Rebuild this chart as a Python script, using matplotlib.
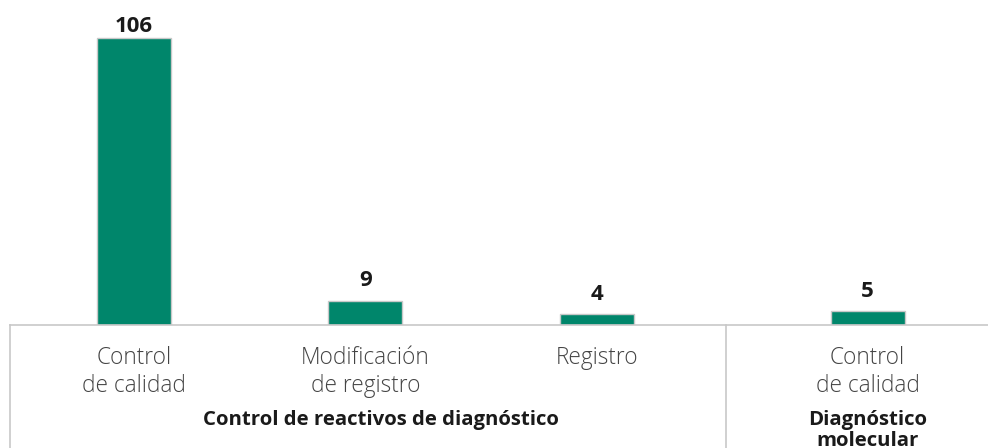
import numpy as np
import matplotlib
matplotlib.use("Agg")
import matplotlib.pyplot as plt

# datos
categorias = ["Control\nde calidad", "Modificación\nde registro", "Registro", "Control\nde calidad"]
valores = [106, 9, 4, 5]
grupos = ["Control de reactivos de diagnóstico", "Diagnóstico\nmolecular"]
grupo_de = [0, 0, 0, 1]

verde = "#00866b"
gris = "#c8c8c8"

# posiciones: un hueco extra entre grupos
hueco = 0.17
x = np.arange(len(valores)) + np.array(grupo_de) * hueco

fig = plt.figure(figsize=(9.88, 4.48), dpi=100)
ax = fig.add_axes([10 / 988, 123 / 448, 978 / 988, 315 / 448])

ax.bar(x, valores, width=0.32, color=verde, edgecolor=gris, linewidth=1, zorder=2)

# etiquetas de valor (la mas alta queda pegada al tope)
for xi, v in zip(x, valores):
    ax.text(xi, min(v + 5.3, 108), str(v), ha="center", va="baseline", fontsize=16,
            fontweight="bold", family="Open Sans", color="#1a1a1a")

ax.set_xlim(-0.536, 3.69)
ax.set_ylim(0, 116.3)

for s in ["top", "right", "left"]:
    ax.spines[s].set_visible(False)
ax.spines["bottom"].set_color(gris)
ax.spines["bottom"].set_linewidth(1.2)
ax.set_yticks([])
ax.set_xticks([])

# etiquetas de categoria
for xi, c in zip(x, categorias):
    ax.text(xi, -7.8, c, ha="center", va="top", fontsize=16.3, fontweight="light",
            family="Open Sans", color="#444444", linespacing=1.22)

# separadores de grupo
for xs in [-0.536, 2.56]:
    ax.axvline(xs, ymin=-123 / 315, ymax=0, color=gris, linewidth=1.2, clip_on=False)

# etiquetas de grupo
desplaz = [0.065, 0.0]
for g, nombre in enumerate(grupos):
    xs = x[np.array(grupo_de) == g]
    ax.text(xs.mean() + desplaz[g], -31.5, nombre, ha="center", va="top", fontsize=14.7,
            fontweight="bold", family="Open Sans", color="#1a1a1a", linespacing=1.05)

fig.savefig("out.png", dpi=100)
